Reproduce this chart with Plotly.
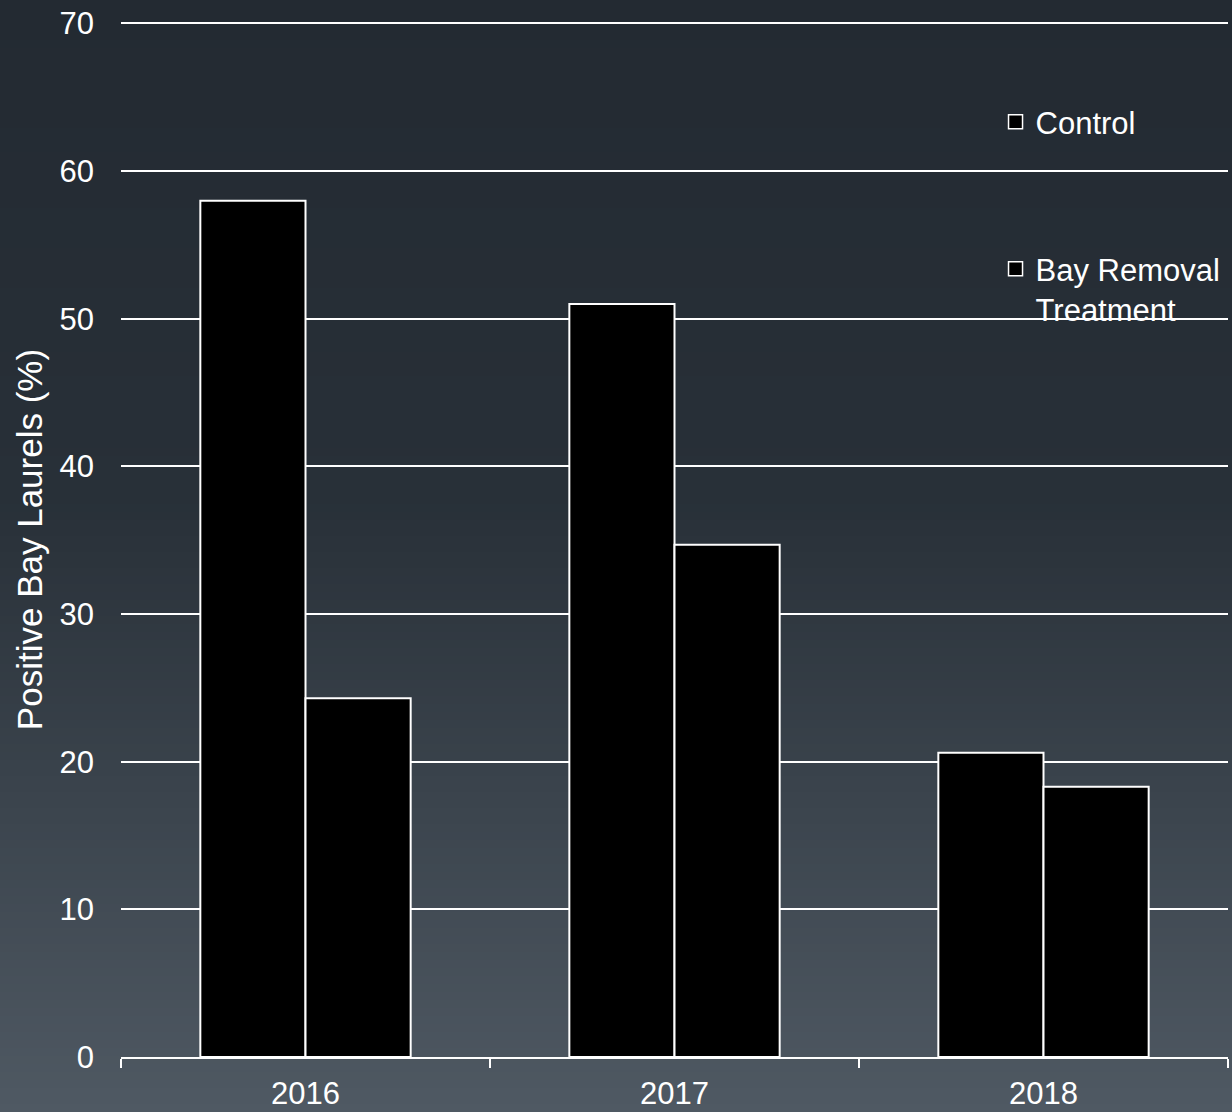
import plotly.graph_objects as go

# Survey data: share of bay laurels testing positive, by year and plot type
years = ["2016", "2017", "2018"]
control_pct = [58.0, 51.0, 20.6]
removal_pct = [24.3, 34.7, 18.3]
series_names = ["Control", "Bay Removal<br>Treatment"]
y_ticks = [0, 10, 20, 30, 40, 50, 60, 70]

W, H = 1232, 1112
M = dict(l=121, r=4, t=22, b=55)
PW = W - M["l"] - M["r"]
PH = H - M["t"] - M["b"]

FONT = "Liberation Sans, Arial, sans-serif"
BAR_STYLE = dict(color="black", line=dict(color="white", width=2))
KEY_STYLE = dict(symbol="square", size=14, color="black", line=dict(color="white", width=1.5))

fig = go.Figure()

fig.add_trace(go.Bar(x=years, y=control_pct, name=series_names[0],
                     marker=BAR_STYLE, showlegend=False))
fig.add_trace(go.Bar(x=years, y=removal_pct, name=series_names[1],
                     marker=BAR_STYLE, showlegend=False))

# Legend keys drawn as square markers
fig.add_trace(go.Scatter(x=[None], y=[None], mode="markers", name=series_names[0],
                         marker=KEY_STYLE, legend="legend", hoverinfo="skip"))
fig.add_trace(go.Scatter(x=[None], y=[None], mode="markers", name=series_names[1],
                         marker=KEY_STYLE, legend="legend2", hoverinfo="skip"))

# Vertical background gradient built from thin horizontal bands
def lerp(c0, c1, t):
    return tuple(round(a + (b - a) * t) for a, b in zip(c0, c1))

stops = [(0.0, (35, 42, 50)), (0.45, (40, 48, 56)), (1.0, (79, 89, 99))]

def grad_color(t):
    for (t0, c0), (t1, c1) in zip(stops[:-1], stops[1:]):
        if t <= t1:
            return lerp(c0, c1, (t - t0) / (t1 - t0))
    return stops[-1][1]

band = 8
shapes = []
for top in range(0, H, band):
    bot = top + band + 1
    if top + band >= H:
        bot = H + 10
    c = grad_color(min((top + band / 2) / H, 1.0))
    shapes.append(dict(
        type="rect", xref="paper", yref="paper", layer="below",
        x0=-M["l"] / PW - 0.01, x1=1 + M["r"] / PW + 0.01,
        y0=1 + (M["t"] - bot) / PH, y1=1 + (M["t"] - top + (10 if top == 0 else 0)) / PH,
        fillcolor="rgb(%d,%d,%d)" % c, line=dict(width=0),
    ))

legend_common = dict(
    xref="paper", yref="paper", x=0.790,
    xanchor="left", bgcolor="rgba(0,0,0,0)",
    font=dict(family=FONT, size=31, color="white"),
    valign="top", itemclick=False, itemdoubleclick=False,
)

fig.update_layout(
    width=W, height=H, margin=M,
    paper_bgcolor="rgb(35,42,50)",
    plot_bgcolor="rgba(0,0,0,0)",
    font=dict(family=FONT, size=31, color="white"),
    barmode="group", bargap=0.43, bargroupgap=0,
    shapes=shapes,
    showlegend=True,
    legend=dict(legend_common, y=1 - (122 - M["t"]) / PH, yanchor="middle"),
    legend2=dict(legend_common, y=1 - (242 - M["t"]) / PH, yanchor="top"),
    xaxis=dict(
        type="category", tickson="boundaries", automargin=False,
        ticks="outside", ticklen=9, tickwidth=2, tickcolor="white",
        showline=True, linecolor="white", linewidth=2,
        showgrid=False, ticklabelstandoff=8,
        tickfont=dict(size=31, color="white"),
    ),
    yaxis=dict(
        range=[0, 70.1], tickvals=y_ticks, showline=False, zeroline=False,
        automargin=False,
        showgrid=True, gridcolor="white", gridwidth=2,
        ticks="", ticklabelstandoff=26,
        tickfont=dict(size=31, color="white"),
        title=dict(text="Positive Bay Laurels (%)", font=dict(size=35, color="white"), standoff=6),
    ),
)

fig.write_html("out.html")
